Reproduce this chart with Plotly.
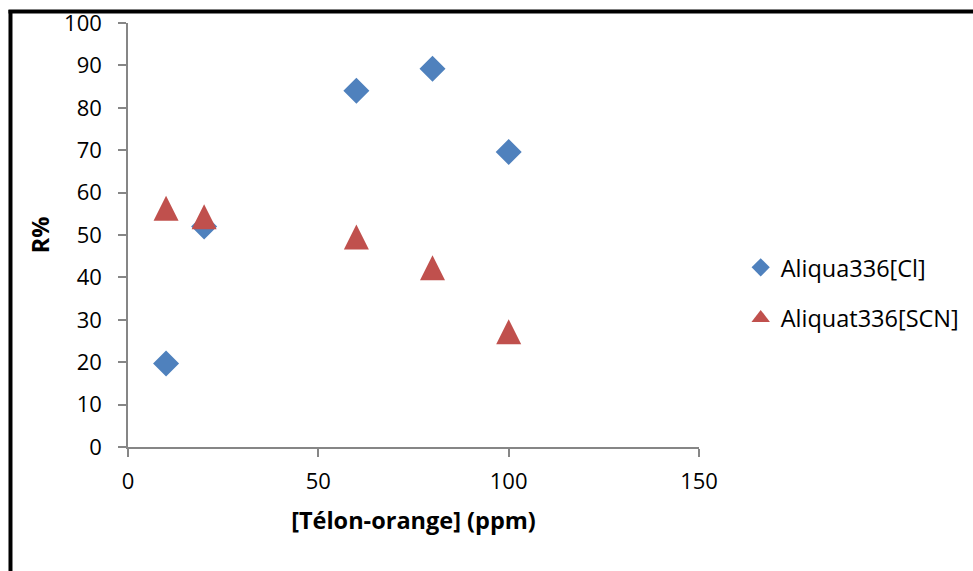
import plotly.graph_objects as go

# Télon-orange concentration (ppm)
conc = [10, 20, 60, 80, 100]

# Extraction yield R% for each extractant
r_cl = [19.7, 52, 84, 89.2, 69.6]
r_scn = [56.3, 54.3, 49.5, 42.3, 27.2]

names = ["Aliqua336[Cl]", "Aliquat336[SCN]"]

x_ticks = [0, 50, 100, 150]
y_ticks = list(range(0, 101, 10))

FONT = "'Open Sans', Lato, sans-serif"
BLUE = "#4F81BD"
RED = "#C0504D"
AXIS = "#868686"

fig = go.Figure()

fig.add_trace(go.Scatter(
    x=conc, y=r_cl, mode="markers", name=names[0], showlegend=False,
    marker=dict(symbol="diamond", size=20, color=BLUE),
))
# Upward triangle as tall as it is wide, centred on the point
fig.add_trace(go.Scatter(
    x=conc, y=r_scn, mode="markers", name=names[1], showlegend=False,
    marker=dict(symbol="arrow-down", angle=180, standoff=12.5, size=25, color=RED),
))

# Legend entries
fig.add_trace(go.Scatter(
    x=[None], y=[None], mode="markers", name=names[0], legendgroup="a",
    marker=dict(symbol="diamond", size=14, color=BLUE),
))
fig.add_trace(go.Scatter(
    x=[None], y=[None], mode="markers", name=names[1], legendgroup="b",
    marker=dict(symbol="triangle-up", size=16, color=RED),
))

fig.update_layout(
    width=973, height=571,
    margin=dict(l=128, r=274, t=23, b=124, autoexpand=False),
    paper_bgcolor="white", plot_bgcolor="white",
    font=dict(family=FONT, size=22, color="#000000"),
    showlegend=True,
    legend=dict(
        x=1.073, y=0.363, xanchor="left", yanchor="middle",
        traceorder="grouped", tracegroupgap=17,
        font=dict(family=FONT, size=23.5, color="#000000"),
        itemsizing="trace",
    ),
    xaxis=dict(
        range=[0, 150], tickvals=x_ticks, ticktext=[str(v) for v in x_ticks],
        showgrid=False, zeroline=False, showline=True, linecolor=AXIS, linewidth=1.5,
        ticks="outside", ticklen=8, tickcolor=AXIS, tickwidth=1.5,
        ticklabelstandoff=6, automargin=False,
        title=dict(text="<b>[Télon-orange] (ppm)</b>", font=dict(family=FONT, size=23.5), standoff=18),
    ),
    yaxis=dict(
        range=[0, 100], tickvals=y_ticks, ticktext=[str(v) for v in y_ticks],
        showgrid=False, zeroline=False, showline=True, linecolor=AXIS, linewidth=1.5,
        ticks="outside", ticklen=8, tickcolor=AXIS, tickwidth=1.5,
        ticklabelstandoff=12, automargin=False,
        title=dict(text="<b>R%</b>", font=dict(family=FONT, size=23.5), standoff=8),
    ),
)

# Black frame along the left and top edges of the page
fig.add_shape(type="line", xref="paper", yref="paper",
              x0=-0.2058, x1=-0.2058, y0=-0.5, y1=1.0306,
              line=dict(color="black", width=4))
fig.add_shape(type="line", xref="paper", yref="paper",
              x0=-0.2093, x1=1.6, y0=1.0271, y1=1.0271,
              line=dict(color="black", width=4))

fig.write_html("out.html")
